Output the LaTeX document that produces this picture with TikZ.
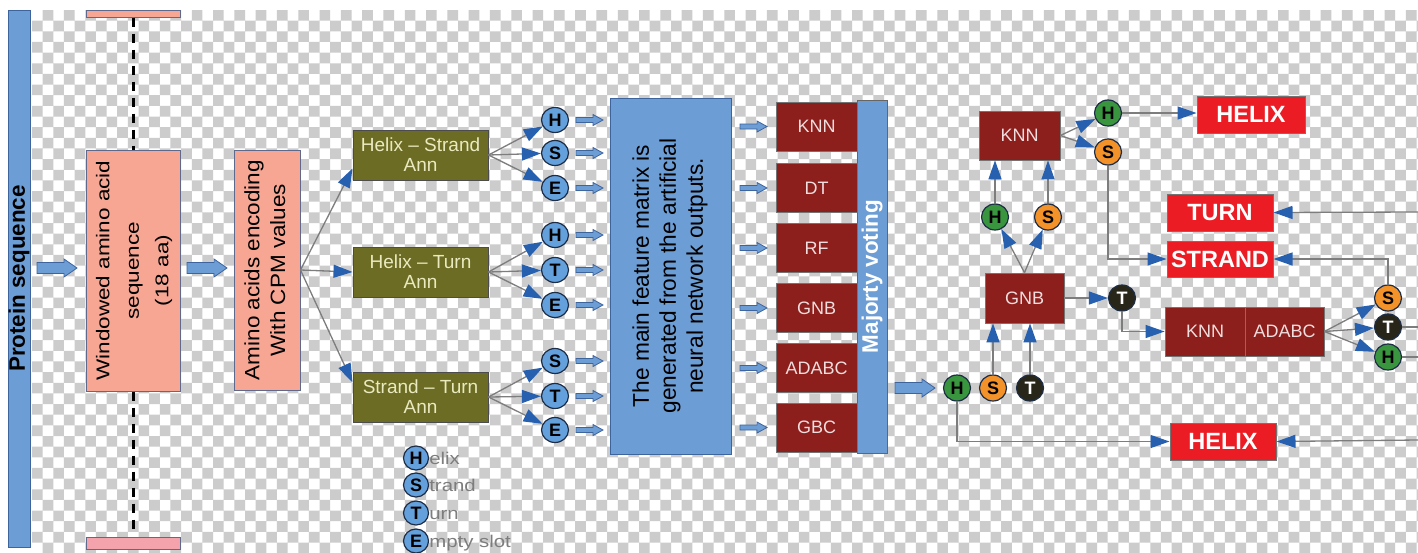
\documentclass[tikz,border=0pt]{standalone}
\usepackage{fontspec}
\usepackage{graphicx}
\setmainfont{Liberation Sans}
\usetikzlibrary{arrows.meta,shapes.geometric,calc}

\definecolor{bgray}{RGB}{204,204,204}
\definecolor{lblue}{RGB}{108,157,212}
\definecolor{lbluedk}{RGB}{62,100,158}
\definecolor{salmon}{RGB}{247,166,148}
\definecolor{pinkb}{RGB}{244,162,172}
\definecolor{saledge}{RGB}{95,105,140}
\definecolor{olive}{RGB}{108,108,36}
\definecolor{olivetxt}{RGB}{234,234,192}
\definecolor{dred}{RGB}{140,30,28}
\definecolor{dredtxt}{RGB}{240,222,222}
\definecolor{bred}{RGB}{236,28,36}
\definecolor{cgreen}{RGB}{58,150,62}
\definecolor{corange}{RGB}{244,146,42}
\definecolor{cblack}{RGB}{40,38,24}
\definecolor{cblue}{RGB}{100,160,220}
\definecolor{ablue}{RGB}{40,96,176}
\definecolor{lgray}{RGB}{125,125,125}
\definecolor{navy}{RGB}{30,45,70}

\tikzset{
  pics/sarrow/.style={code={\draw[fill=lblue,draw=lbluedk,line width=0.8pt]
    (0,-2.5) -- (17,-2.5) -- (17,-5.5) -- (27,0) -- (17,5.5) -- (17,2.5) -- (0,2.5) -- cycle;}},
  pics/barrow/.style={code={\draw[fill=lblue,draw=lbluedk,line width=0.8pt]
    (0,-5.5) -- (27,-5.5) -- (27,-9) -- (40,0) -- (27,9) -- (27,5.5) -- (0,5.5) -- cycle;}}
}

\begin{document}
\begin{tikzpicture}[x=1pt,y=-1pt,
  conn/.style={draw=lgray,line width=1.3pt,-{Triangle[length=19pt,width=13pt,color=ablue]}},
  plain/.style={draw=lgray,line width=1.3pt},
  dashln/.style={draw=black,line width=3pt,dash pattern=on 9pt off 7pt},
  salbox/.style={draw=saledge,fill=salmon,line width=1pt,inner sep=0pt},
  bluebox/.style={draw=lbluedk,fill=lblue,line width=1pt,inner sep=0pt},
  olbox/.style={draw=black!70,fill=olive,text=olivetxt,line width=1pt,minimum width=135pt,minimum height=50pt,align=center,inner sep=0pt,font=\fontsize{19}{20}\selectfont},
  rbox/.style={draw=black!55,fill=dred,text=dredtxt,line width=0.8pt,minimum width=81pt,minimum height=49pt,inner sep=0pt,font=\fontsize{18}{18}\selectfont},
  bbox/.style={draw=black!55,fill=bred,text=white,line width=1pt,minimum width=106pt,minimum height=37pt,inner sep=0pt,font=\fontsize{23.5}{23.5}\selectfont\bfseries},
  circ/.style={ellipse,draw=navy,line width=1.2pt,inner sep=0pt,minimum width=27pt,minimum height=26pt,font=\fontsize{18}{18}\selectfont\bfseries},
  bc/.style={circ,fill=cblue,minimum width=27pt,minimum height=25pt},
  lc/.style={circ,fill=cblue,minimum width=25pt,minimum height=24pt},
  gc/.style={circ,fill=cgreen},
  oc/.style={circ,fill=corange},
  kc/.style={circ,fill=cblack,text=white},
  legtext/.style={text=lgray,inner sep=0pt,anchor=base west,font=\fontsize{17}{17}\selectfont}
]
\useasboundingbox (0,0) rectangle (1418,552);
\fill[white] (0,0) rectangle (1418,552);
% checkerboard background
\fill[bgray] \foreach \j [evaluate=\j as \off using {mod(\j,2)}] in {0,...,50} {
  \foreach \i in {0,...,65} { ({32+10.65*(2*\i+1-\off)},{10+10.65*\j}) rectangle ++(10.65,10.65) } };

% ---------------- left column ----------------
\node[draw=lbluedk,fill=lblue,rotate=90,minimum width=537pt,minimum height=22pt,inner sep=0pt,
      font=\fontsize{22.4}{24}\selectfont\bfseries] (pbar) at (19,278.5) {Protein sequence};
\node[salbox,minimum width=94pt,minimum height=7pt] (topbar) at (133,13.5) {};
\node[salbox,fill=pinkb,minimum width=94pt,minimum height=12pt] (botbar) at (133,543) {};
\node[salbox,rotate=90,minimum width=241pt,minimum height=94pt] (win) at (133,270.5)
  {\scalebox{1}[0.82]{\fontsize{22.5}{36}\selectfont\begin{tabular}{@{}c@{}}Windowed amino acid\\sequence\\(18 aa)\end{tabular}}};
\node[salbox,rotate=90,minimum width=240pt,minimum height=66pt] (amino) at (267,270)
  {\scalebox{1}[0.92]{\fontsize{22.5}{28}\selectfont\begin{tabular}{@{}c@{}}Amino acids encoding\\With CPM values\end{tabular}}};
\draw[dashln] (topbar.south) -- (win.east);
\draw[dashln] (win.west) -- ($(botbar.north)+(0,-6)$);
\pic at (37,268) {barrow};
\pic at (187,268) {barrow};

% ---------------- ANN boxes ----------------
\node[olbox] (hs) at (420.5,155) {Helix -- Strand\\Ann};
\node[olbox] (ht) at (420.5,272) {Helix -- Turn\\Ann};
\node[olbox] (st) at (420.5,397) {Strand -- Turn\\Ann};
\draw[conn] (amino.south) -- ($(hs.south west)+(0,-12)$);
\draw[conn] (amino.south) -- (ht.west);
\draw[conn] (amino.south) -- ($(st.north west)+(0,11)$);

\node[bc] (hsH) at (555,120) {H};
\node[bc] (hsS) at (555,153) {S};
\node[bc] (hsE) at (555,188) {E};
\node[bc] (htH) at (555,235) {H};
\node[bc] (htT) at (555,270) {T};
\node[bc] (htE) at (555,305) {E};
\node[bc] (stS) at (555,361) {S};
\node[bc] (stT) at (555,396) {T};
\node[bc] (stE) at (555,430) {E};
\foreach \b/\c in {hs/hsH,hs/hsS,hs/hsE,ht/htH,ht/htT,ht/htE,st/stS,st/stT,st/stE}
  \draw[conn] (\b.east) -- (\c);
\foreach \y in {120,153,188,235,270,305,361,396,430}
  \pic at (576,\y) {sarrow};

% legend
\node[lc] (lH) at (416,458) {H};
\node[lc] (lS) at (416,485) {S};
\node[lc] (lT) at (416,513) {T};
\node[lc] (lE) at (416,541) {E};
\node[legtext] (lHt) at ($(lH.east)+(0,6)$) {\scalebox{1.2}[1]{elix}};
\node[legtext] (lSt) at ($(lS.east)+(0,6)$) {\scalebox{1.2}[1]{trand}};
\node[legtext] (lTt) at ($(lT.east)+(0,6)$) {\scalebox{1.2}[1]{urn}};
\node[legtext] (lEt) at ($(lE.east)+(0,6)$) {\scalebox{1.2}[1]{mpty slot}};

% ---------------- feature matrix ----------------
\node[bluebox,rotate=90,minimum width=356pt,minimum height=121pt] (feat) at (670.5,276)
  {\fontsize{22.7}{27}\selectfont\begin{tabular}{@{}c@{}}The main feature matrix is\\generated from the artificial\\neural network outputs.\end{tabular}};

% majority voting
\node[bluebox,draw=black!60,rotate=90,minimum width=353pt,minimum height=30pt,text=white,
      font=\fontsize{22.4}{24}\selectfont\bfseries] (vote) at (872,276.5) {Majorty voting};
\node[rbox] (c1) at (816.5,126.5) {KNN};
\node[rbox] (c2) at (816.5,188) {DT};
\node[rbox] (c3) at (816.5,248) {RF};
\node[rbox] (c4) at (816.5,308) {GNB};
\node[rbox] (c5) at (816.5,368) {ADABC};
\node[rbox] (c6) at (816.5,427.5) {GBC};
\foreach \y in {126.5,188,248,308,368,427.5}
  \pic at (740,\y) {sarrow};
\pic at (895,388) {barrow};

% ---------------- right part ----------------
\node[gc] (h0) at (957,388) {H};
\node[oc] (s0) at (993,388) {S};
\node[kc] (t0) at (1030,388) {T};
\node[rbox,minimum width=79pt,minimum height=50pt] (gnb) at (1024.5,298) {GNB};
\node[gc] (h1) at (995,217) {H};
\node[oc] (s1) at (1048,217) {S};
\node[rbox,minimum width=81pt,minimum height=49pt] (knn1) at (1019.5,135.5) {KNN};
\node[gc] (h2) at (1108,113) {H};
\node[oc] (s2) at (1108,152) {S};
\node[bbox,minimum width=108pt] (helix1) at (1251,114.5) {HELIX};
\node[bbox] (turn) at (1220,212.5) {TURN};
\node[bbox,minimum height=36pt] (strand) at (1220,259) {STRAND};
\node[kc] (t1) at (1122,298) {T};
\node[rbox,minimum width=80pt] (knn2) at (1205,331.5) {KNN};
\node[rbox,minimum width=79pt] (ada) at (1284.5,331.5) {ADABC};
\node[oc] (s3) at (1388,298) {S};
\node[kc] (t3) at (1388,327) {T};
\node[gc] (h3) at (1388,357) {H};
\node[bbox] (helix2) at (1223,441.5) {HELIX};
\coordinate (eT) at (1418,327);
\coordinate (eH) at (1418,357);
\coordinate (eTurn) at (1418,212);
\coordinate (eHelix) at (1418,440);

\draw[conn] (h0) |- (helix2.west);
\draw[conn] (s0) -- (s0 |- gnb.south);
\draw[conn] (t0) -- (t0 |- gnb.south);
\draw[conn] (gnb.north) -- (h1);
\draw[conn] (gnb.north) -- (s1);
\draw[conn] (h1) -- (h1 |- knn1.south);
\draw[conn] (s1) -- (s1 |- knn1.south);
\draw[conn] (knn1.east) -- (h2);
\draw[conn] (knn1.east) -- (s2);
\draw[conn] (h2) -- (h2 -| helix1.west);
\draw[conn] (s2) |- (strand.west);
\draw[conn] (gnb.east) -- (t1);
\draw[conn] (t1) |- (knn2.west);
\draw[conn] (ada.east) -- (s3);
\draw[conn] (ada.east) -- (t3);
\draw[conn] (ada.east) -- (h3);
\draw[conn] (s3) |- (strand.east);
\draw[plain] (t3) -- (eT);
\draw[plain] (h3) -- (eH);
\draw[conn] (eTurn) -- (turn.east);
\draw[conn] (eHelix) -- (helix2.east);
\end{tikzpicture}
\end{document}
